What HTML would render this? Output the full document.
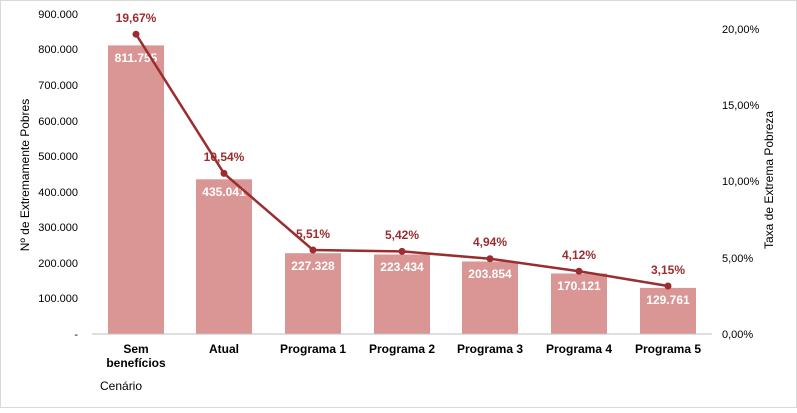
<!DOCTYPE html>
<html><head><meta charset="utf-8"><style>
body{margin:0;background:#fff}
text{font-family:"Liberation Sans",Arial,sans-serif}
</style></head><body>
<svg width="797" height="408" viewBox="0 0 797 408" xmlns="http://www.w3.org/2000/svg">
<rect x="0.5" y="0.5" width="796" height="407" fill="#fff" stroke="#d9d9d9"/>
<g font-size="11" fill="#000" text-anchor="end">
<text x="78" y="338">-</text>
<text x="78" y="302">100.000</text>
<text x="78" y="267">200.000</text>
<text x="78" y="231">300.000</text>
<text x="78" y="196">400.000</text>
<text x="78" y="160">500.000</text>
<text x="78" y="125">600.000</text>
<text x="78" y="89">700.000</text>
<text x="78" y="53">800.000</text>
<text x="78" y="18">900.000</text>
</g>
<g font-size="11" fill="#000" text-anchor="start">
<text x="722" y="338">0,00%</text>
<text x="722" y="262">5,00%</text>
<text x="722" y="185">10,00%</text>
<text x="722" y="109">15,00%</text>
<text x="722" y="33">20,00%</text>
</g>
<text transform="translate(29,175) rotate(-90)" font-size="12" text-anchor="middle">Nº de Extremamente Pobres</text>
<text transform="translate(773,180) rotate(-90)" font-size="12" text-anchor="middle">Taxa de Extrema Pobreza</text>
<g fill="#d99694">
<rect x="108" y="45.4" width="56" height="288.6"/>
<rect x="196" y="179.3" width="56" height="154.7"/>
<rect x="285" y="253.2" width="56" height="80.8"/>
<rect x="374" y="254.5" width="56" height="79.5"/>
<rect x="462" y="261.5" width="56" height="72.5"/>
<rect x="551" y="273.5" width="56" height="60.5"/>
<rect x="640" y="287.9" width="56" height="46.1"/>
</g>
<line x1="92" y1="334" x2="712" y2="334" stroke="#bfbfbf"/>
<g font-size="12" font-weight="bold" fill="#fff" text-anchor="middle">
<text x="136" y="62">811.755</text>
<text x="224" y="196">435.041</text>
<text x="313" y="270">227.328</text>
<text x="402" y="271">223.434</text>
<text x="490" y="278">203.854</text>
<text x="579" y="290">170.121</text>
<text x="668" y="304">129.761</text>
</g>
<polyline fill="none" stroke="#9b2d30" stroke-width="2.5" points="136,34.2 224,173.4 313,250 402,251.4 490,258.7 579,271.2 668,286"/>
<g fill="#9b2d30">
<circle cx="136" cy="34.2" r="3.5"/><circle cx="224" cy="173.4" r="3.5"/><circle cx="313" cy="250" r="3.5"/><circle cx="402" cy="251.4" r="3.5"/><circle cx="490" cy="258.7" r="3.5"/><circle cx="579" cy="271.2" r="3.5"/><circle cx="668" cy="286" r="3.5"/>
</g>
<g font-size="12" font-weight="bold" fill="#9b2d30" text-anchor="middle">
<text x="136" y="22">19,67%</text>
<text x="224" y="161">10,54%</text>
<text x="313" y="238">5,51%</text>
<text x="402" y="239">5,42%</text>
<text x="490" y="246">4,94%</text>
<text x="579" y="259">4,12%</text>
<text x="668" y="274">3,15%</text>
</g>
<g font-size="12" font-weight="bold" fill="#000" text-anchor="middle">
<text x="136" y="353">Sem</text>
<text x="136" y="367">benefícios</text>
<text x="224" y="353">Atual</text>
<text x="313" y="353">Programa 1</text>
<text x="402" y="353">Programa 2</text>
<text x="490" y="353">Programa 3</text>
<text x="579" y="353">Programa 4</text>
<text x="668" y="353">Programa 5</text>
</g>
<text x="100" y="390" font-size="12">Cenário</text>
</svg>
</body></html>
